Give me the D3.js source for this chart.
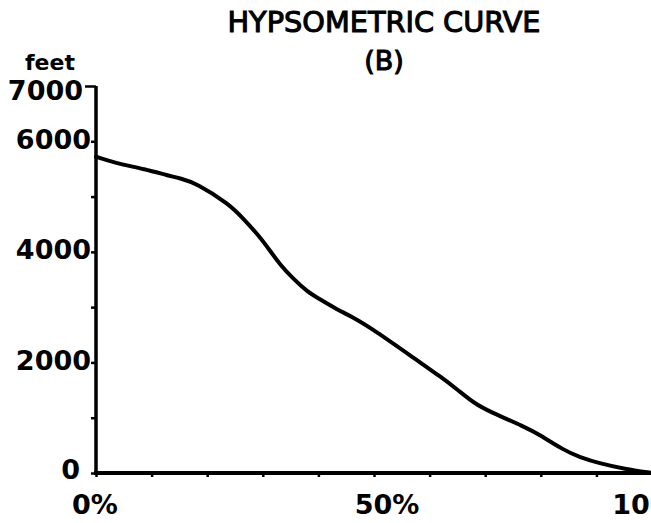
<!DOCTYPE html>
<html>
<head>
<meta charset="utf-8">
<script src="https://cdn.jsdelivr.net/npm/d3@7"></script>
<style>
  html, body { margin: 0; padding: 0; background: #fff; }
  svg { display: block; }
</style>
</head>
<body>
<svg id="chart" width="651" height="523"></svg>
<script>
// ---- data ----
const titleLines = ["HYPSOMETRIC  CURVE", "(B)"];
const yUnit = "feet";
const yTickValues = [0, 1000, 2000, 3000, 4000, 5000, 6000, 7000];
const yLabelValues = [0, 2000, 4000, 6000, 7000];
const xTickValues = [0, 10, 20, 30, 40, 50, 60, 70, 80, 90, 100];
const xLabelValues = [0, 50, 100];
// percent of area above elevation
const areaPct = [0, 3, 9, 13, 15, 18, 24, 26.5, 29.5, 31.3, 33.1, 35.5, 38, 40.3, 43.4, 45.7, 50, 57.8, 62, 65, 68, 71, 77, 80, 84, 87, 90.7, 95, 100];
// elevation in feet
const elevation = [5720, 5620, 5490, 5380, 5335, 5245, 4860, 4600, 4270, 4020, 3770, 3510, 3280, 3140, 2955, 2845, 2590, 2035, 1740, 1510, 1260, 1100, 840, 680, 420, 285, 170, 75, 0];

// ---- layout ----
const svg = d3.select("#chart");
const W = 651, H = 523;
svg.append("rect").attr("width", W).attr("height", H).attr("fill", "#fff");

const x = d3.scaleLinear().domain([0, 100]).range([96, 652]);
const y = d3.scaleLinear().domain([0, 7000]).range([473, 86]);

const ink = "#000";
const numFont = "'DejaVu Sans', sans-serif";

// title
svg.append("text")
  .attr("x", 384).attr("y", 32)
  .attr("text-anchor", "middle")
  .attr("font-family", numFont).attr("font-size", 29)
  .attr("stroke", ink).attr("stroke-width", 1.1)
  .attr("textLength", 313).attr("lengthAdjust", "spacingAndGlyphs")
  .attr("fill", ink).text(titleLines[0]);
svg.append("text")
  .attr("x", 384).attr("y", 70)
  .attr("text-anchor", "middle")
  .attr("font-family", numFont).attr("font-size", 27)
  .attr("stroke", ink).attr("stroke-width", 1.1)
  .attr("fill", ink).text(titleLines[1]);

// unit label
svg.append("text")
  .attr("x", 50).attr("y", 70)
  .attr("text-anchor", "middle")
  .attr("font-family", numFont).attr("font-weight", "bold").attr("font-size", 22)
  .attr("fill", ink).text(yUnit);

// y axis
const yAxis = d3.axisLeft(y).tickValues(yTickValues).tickSize(5).tickFormat("");
const gy = svg.append("g").attr("transform", `translate(${x(0)},0)`).call(yAxis);
gy.select(".domain").attr("stroke", ink).attr("stroke-width", 3.5)
  .attr("d", `M0,${y(7000)}V${y(0)}`);
gy.selectAll(".tick line").attr("stroke", ink).attr("stroke-width", 2.5)
  .attr("x2", d => d === 7000 ? -11 : -5);

// y labels
svg.append("g").selectAll("text").data(yLabelValues).join("text")
  .attr("x", d => x(0) - (d === 7000 ? 13 : d === 0 ? 16 : 5))
  .attr("y", d => y(d) + (d === 7000 ? 4 : d === 0 ? -4 : -2))
  .attr("dominant-baseline", "central")
  .attr("text-anchor", "end")
  .attr("font-family", numFont).attr("font-weight", "bold").attr("font-size", 27)
  .attr("fill", ink)
  .text(d => d);

// x axis
const xAxis = d3.axisBottom(x).tickValues(xTickValues).tickSize(4).tickFormat("");
const gx = svg.append("g").attr("transform", `translate(0,${y(0)})`).call(xAxis);
gx.select(".domain").attr("stroke", ink).attr("stroke-width", 4)
  .attr("d", `M${x(0) - 2},0H${x(100)}`);
gx.selectAll(".tick line").attr("stroke", ink).attr("stroke-width", 2.5);

// x labels
svg.append("g").selectAll("text").data(xLabelValues).join("text")
  .attr("x", d => x(d) + (d === 50 ? 13 : d === 100 ? 2 : -1))
  .attr("y", 514)
  .attr("text-anchor", "middle")
  .attr("font-family", numFont).attr("font-weight", "bold").attr("font-size", 27)
  .attr("fill", ink)
  .text(d => d + "%");

// curve
const pts = areaPct.map((p, i) => [p, elevation[i]]);
const line = d3.line().x(d => x(d[0])).y(d => y(d[1])).curve(d3.curveBasis);
svg.append("path").attr("d", line(pts))
  .attr("fill", "none").attr("stroke", ink).attr("stroke-width", 4)
  .attr("stroke-linejoin", "round").attr("stroke-linecap", "round");
</script>
</body>
</html>
